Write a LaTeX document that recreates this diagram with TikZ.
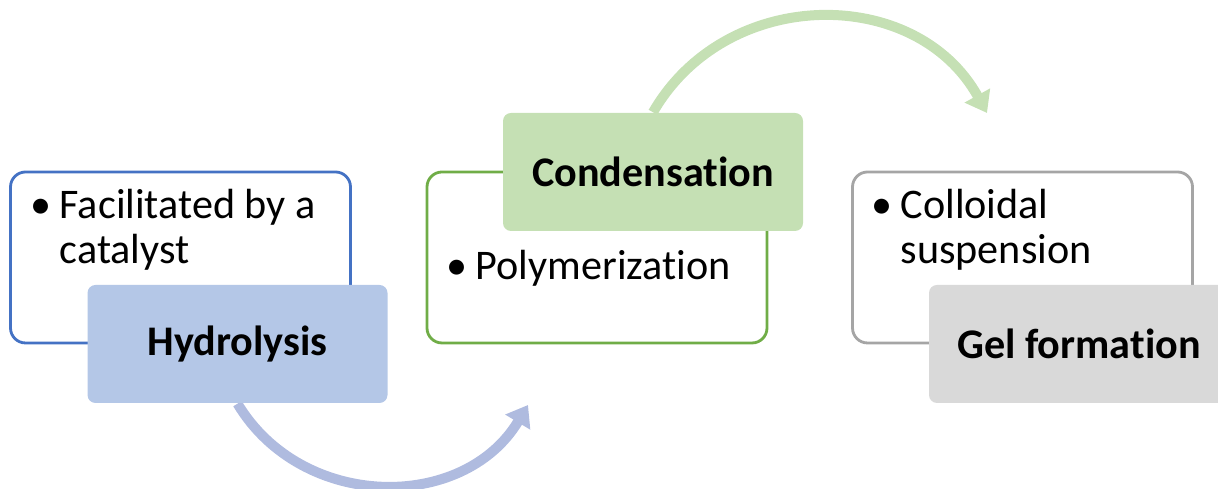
\documentclass[tikz,border=0pt]{standalone}
\usepackage{fontspec}
\setmainfont{Carlito}[Ligatures={NoCommon,NoRequired,NoContextual,NoRare}, RawFeature={-ccmp;-calt}]
\usepackage{tikz}
\usetikzlibrary{positioning, arrows.meta, backgrounds}
\definecolor{stepBlue}{HTML}{4472C4}
\definecolor{stepBlueFill}{HTML}{B4C7E7}
\definecolor{stepBlueArrow}{HTML}{AFBBDF}
\definecolor{stepGreen}{HTML}{70AD47}
\definecolor{stepGreenFill}{HTML}{C5E0B4}
\definecolor{stepGrey}{HTML}{A5A5A5}
\definecolor{stepGreyFill}{HTML}{D9D9D9}
\newcommand{\bulletitem}[3]{%
  \node[bul, anchor=north west] (#1b) at (#2) {\vphantom{l}\textbullet};
  \node[txt, anchor=north west] (#1t) at ([xshift=0.29cm]#1b.north west) {#3};
}

\begin{document}
\begin{tikzpicture}[font=\fontsize{12}{12.8}\selectfont,
  outer/.style={draw, thick, fill=white, rounded corners=0.15cm, minimum width=3.4cm, minimum height=1.71cm},
  title/.style={rounded corners=0.08cm, minimum width=3cm, minimum height=1.18cm, font=\fontsize{12}{12.8}\selectfont\bfseries},
  bul/.style={inner sep=0pt},
  txt/.style={inner sep=0pt, align=left},
  flow/.style={line width=0.1cm, -{Triangle[width=0.28cm, length=0.2cm]}}]
  \useasboundingbox (0,0) rectangle (12.18,4.89);

  % hydrolysis
  \node[outer, draw=stepBlue] (box1) at (1.805,2.315) {};
  \bulletitem{i1}{0.30,3.00}{Facilitated by a\\catalyst}
  \node[title, fill=stepBlueFill] (hyd) at (2.375,1.45) {Hydrolysis};

  % condensation
  \node[outer, draw=stepGreen] (box2) at (5.97,2.315) {};
  \bulletitem{i2}{4.46,2.39}{Polymerization}
  \node[title, fill=stepGreenFill] (cond) at (6.53,3.17) {Condensation};

  % gel formation
  \node[outer, draw=stepGrey] (box3) at (10.225,2.315) {};
  \bulletitem{i3}{8.71,3.00}{Colloidal\\suspension}
  \node[title, fill=stepGreyFill] (gel) at (10.79,1.45) {Gel formation};

  % arrows
  \coordinate (end1) at (5.28,0.84);
  \coordinate (end2) at (9.87,3.76);
  \begin{scope}[on background layer]
    \draw[flow, stepBlueArrow] (hyd.south) to[out=-59, in=-121, looseness=1.1] (end1);
    \draw[flow, stepGreenFill] (cond.north) to[out=60, in=119, looseness=1.12] (end2);
  \end{scope}
\end{tikzpicture}
\end{document}
